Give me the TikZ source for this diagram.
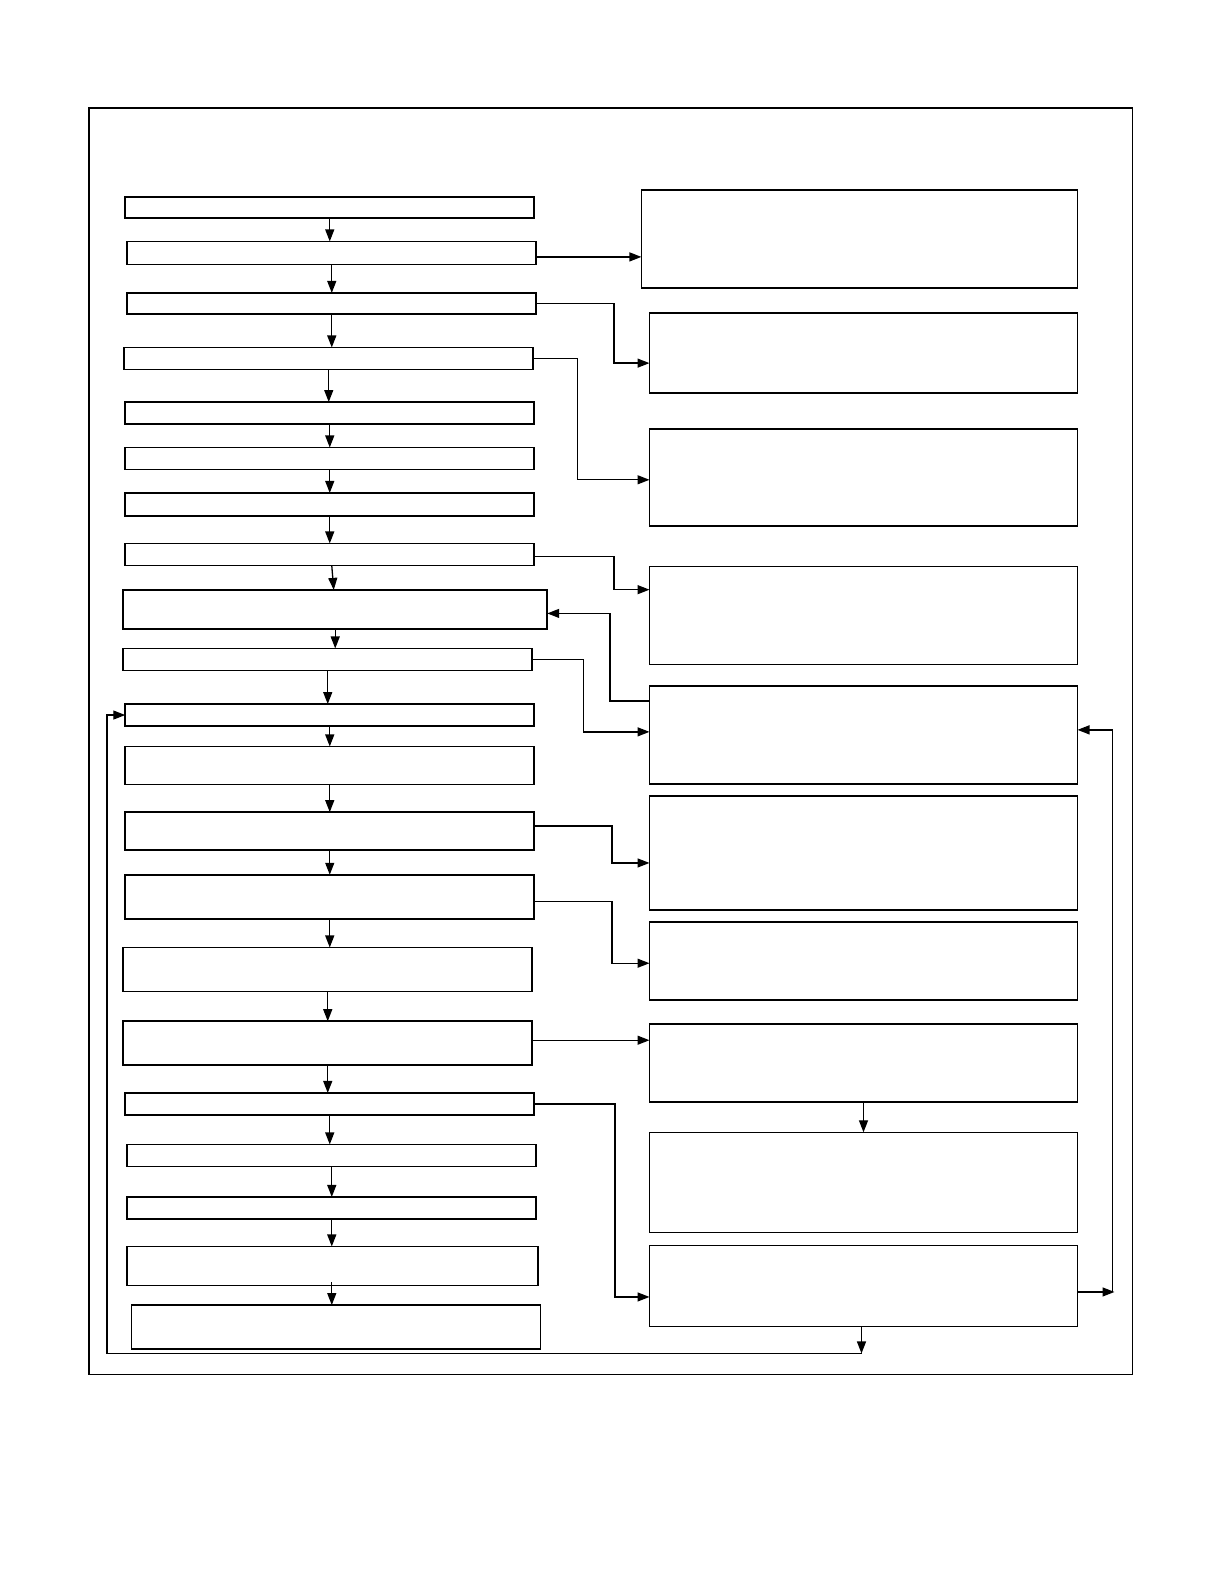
\documentclass[tikz,border=0pt]{standalone}
\usepackage{amsmath}
\usepackage{amssymb}
\usetikzlibrary{arrows.meta}

\tikzset{
  box/.style={draw,line width=1.6pt,inner sep=0pt,outer sep=0pt,anchor=north west},
  arr/.style={line width=1.3pt,-{Triangle[length=12pt,width=9pt]}}
}

\begin{document}
\begin{tikzpicture}[x=1.0101pt,y=-1.0101pt]
\useasboundingbox (0,0) rectangle (1211.76,1568.16);
\draw[line width=1.4pt] (88,107) rectangle (1121,1361);

% left column
\node [box,minimum width=409,minimum height=21] (l1) at (124,195) {};
\node [box,minimum width=409,minimum height=23] (l2) at (126,239) {};
\node [box,minimum width=409,minimum height=21] (l3) at (126,290) {};
\node [box,minimum width=409,minimum height=22] (l4) at (123,344) {};
\node [box,minimum width=409,minimum height=22] (l5) at (124,398) {};
\node [box,minimum width=409,minimum height=22] (l6) at (124,443) {};
\node [box,minimum width=409,minimum height=23] (l7) at (124,488) {};
\node [box,minimum width=409,minimum height=22] (l8) at (124,538) {};
\node [box,minimum width=424,minimum height=39] (l9) at (122,584) {};
\node [box,minimum width=409,minimum height=22] (l10) at (122,642) {};
\node [box,minimum width=409,minimum height=22] (l11) at (124,697) {};
\node [box,minimum width=409,minimum height=38] (l12) at (124,739) {};
\node [box,minimum width=409,minimum height=38] (l13) at (124,804) {};
\node [box,minimum width=409,minimum height=44] (l14) at (124,866) {};
\node [box,minimum width=409,minimum height=44] (l15) at (122,938) {};
\node [box,minimum width=409,minimum height=44] (l16) at (122,1011) {};
\node [box,minimum width=409,minimum height=22] (l17) at (124,1082) {};
\node [box,minimum width=409,minimum height=22] (l18) at (126,1133) {};
\node [box,minimum width=409,minimum height=22] (l19) at (126,1185) {};
\node [box,minimum width=411,minimum height=39] (l20) at (126,1234) {};
\node [box,minimum width=409,minimum height=44] (l21) at (130,1292) {};

% right column
\node [box,minimum width=436,minimum height=98] (r1) at (635,188) {};
\node [box,minimum width=428,minimum height=80] (r2) at (643,310) {};
\node [box,minimum width=428,minimum height=97] (r3) at (643,425) {};
\node [box,minimum width=428,minimum height=98] (r4) at (643,561) {};
\node [box,minimum width=428,minimum height=98] (r5) at (643,679) {};
\node [box,minimum width=428,minimum height=114] (r6) at (643,788) {};
\node [box,minimum width=428,minimum height=78] (r7) at (643,913) {};
\node [box,minimum width=428,minimum height=78] (r8) at (643,1014) {};
\node [box,minimum width=428,minimum height=100] (r9) at (643,1121) {};
\node [box,minimum width=428,minimum height=81] (r10) at (643,1233) {};

% down the left column
\draw[arr] (l1.south) -- (l1.south |- l2.north);
\draw[arr] (l2.south) -- (l2.south |- l3.north);
\draw[arr] (l3.south) -- (l3.south |- l4.north);
\draw[arr] (l4.south) -- (l4.south |- l5.north);
\draw[arr] (l5.south) -- (l5.south |- l6.north);
\draw[arr] (l6.south) -- (l6.south |- l7.north);
\draw[arr] (l7.south) -- (l7.south |- l8.north);
\draw[arr] ([xshift=2pt]l8.south) -- ([xshift=4pt]l8.south |- l9.north);
\draw[arr] (l9.south) -- (l9.south |- l10.north);
\draw[arr] (l10.south) -- (l10.south |- l11.north);
\draw[arr] (l11.south) -- (l11.south |- l12.north);
\draw[arr] (l12.south) -- (l12.south |- l13.north);
\draw[arr] (l13.south) -- (l13.south |- l14.north);
\draw[arr] (l14.south) -- (l14.south |- l15.north);
\draw[arr] (l15.south) -- (l15.south |- l16.north);
\draw[arr] (l16.south) -- (l16.south |- l17.north);
\draw[arr] (l17.south) -- (l17.south |- l18.north);
\draw[arr] (l18.south) -- (l18.south |- l19.north);
\draw[arr] (l19.south) -- (l19.south |- l20.north);
\draw[arr] ([xshift=-1pt,yshift=3pt]l20.south) -- ([xshift=-1pt]l20.south |- l21.north);

% across to the right column
\draw[arr] ([yshift=-4pt]l2.east) -- ([yshift=-4pt]l2.east -| r1.west);
\draw[arr] (l3.east) -- ++(77,0) |- ([yshift=-10pt]r2.west);
\draw[arr] (l4.east) -- ++(44,0) |- ([yshift=-2pt]r3.west);
\draw[arr] ([yshift=-2pt]l8.east) -- ++(79,0) |- ([yshift=26pt]r4.west);
\draw[arr] ([yshift=34pt]r5.west) -- ++(-39,0) |- ([yshift=-4pt]l9.east);
\draw[arr] (l10.east) -- ++(51,0) |- ([yshift=3pt]r5.west);
\draw[arr] ([yshift=5pt]l13.east) -- ++(77,0) |- ([yshift=-10pt]r6.west);
\draw[arr] ([yshift=-5pt]l14.east) -- ++(77,0) |- ([yshift=-2pt]r7.west);
\draw[arr] ([yshift=3pt]l16.east) -- ([yshift=3pt]l16.east -| r8.west);
\draw[arr] (r8.south) -- (r9.north);
\draw[arr] (l17.east) -- ++(80,0) |- ([yshift=-11pt]r10.west);

% feedback loops
\coordinate (fb) at ([yshift=-6pt,xshift=35pt]r10.east);
\draw[arr] ([yshift=-6pt]r10.east) -- ([xshift=2pt]fb);
\draw[arr] (fb) |- ([yshift=5pt]r5.east);
\coordinate (lp) at ([xshift=-2pt,yshift=-27pt]r10.south);
\draw[arr] ([xshift=-2pt]r10.south) -- (lp);
\draw[arr] (lp) -- ++(-747,0) |- (l11.west);
\end{tikzpicture}
\end{document}
